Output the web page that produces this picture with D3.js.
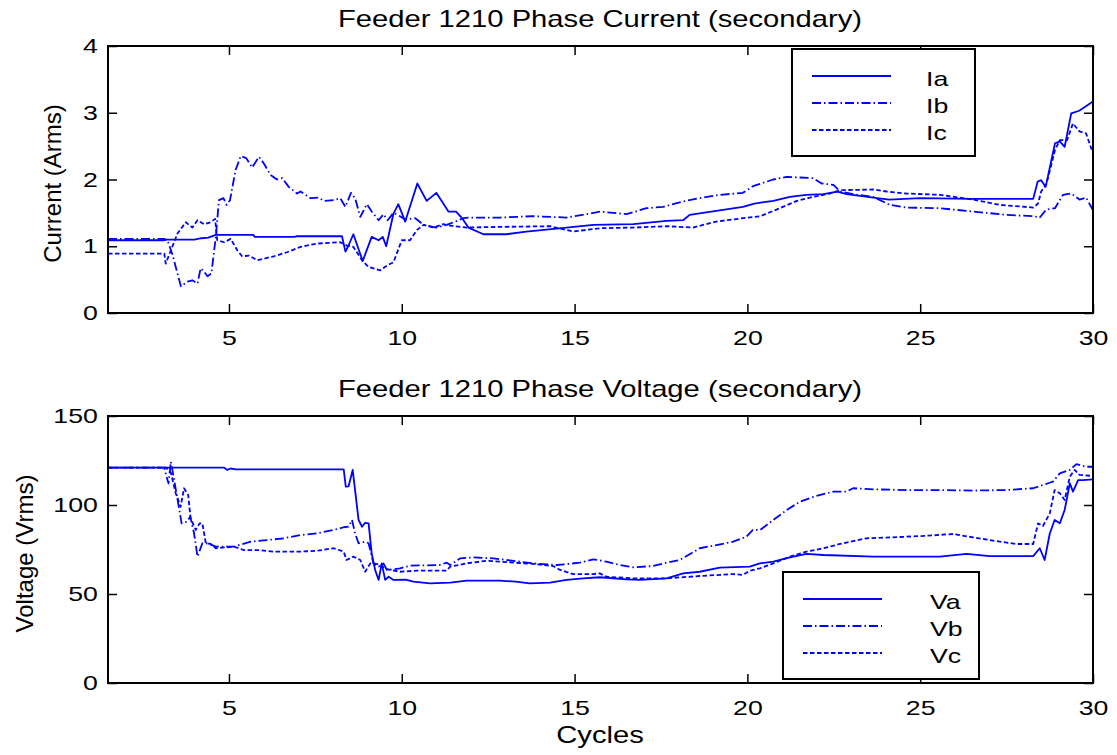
<!DOCTYPE html>
<html>
<head>
    <meta charset="utf-8">
    <style>
        body { margin: 0; background: #fff; }
        svg text { font-family: Arial, "Liberation Sans", Helvetica, sans-serif; fill: #000; }
        .frame { fill: none; stroke: #000; stroke-width: 2px; }
        .tick line { stroke: #000; stroke-width: 1.5px; }
        .domain { display: none; }
        path.trace { fill: none; stroke: #0000ff; stroke-width: 1.8px; stroke-linejoin: round; }
        .legend rect { fill: #fff; stroke: #000; stroke-width: 2px; }
    </style>
</head>
<body>
<div id="chart"></div>
<script src="https://cdn.jsdelivr.net/npm/d3@7"></script>
<script>

    // cycles ticks shared by both panels
    var cycleTicks = [5, 10, 15, 20, 25, 30];
    var currentTicks = [0, 1, 2, 3, 4];
    var voltageTicks = [0, 50, 100, 150];

    // phase currents, [cycle, Arms]
    var ia = [[1.5,1.09],[3.1,1.09],[3.2,1.1],[4.0,1.1],[4.2,1.12],[4.4,1.13],[4.62,1.17],[5.7,1.17],[5.75,1.14],[6.9,1.14],[6.95,1.15],
        [8.27,1.15],[8.37,0.92],[8.45,1.0],[8.6,1.18],[8.72,1.0],[8.87,0.78],[9.13,1.14],[9.33,1.09],[9.45,1.14],[9.55,1.0],[9.76,1.49],
        [9.9,1.63],[10.1,1.37],[10.45,1.94],[10.72,1.68],[11.0,1.8],[11.35,1.52],[11.57,1.52],[11.73,1.43],[11.93,1.28],[12.36,1.18],
        [13.03,1.18],[13.6,1.22],[14.77,1.28],[15.54,1.32],[16.7,1.33],[17.66,1.38],[18.14,1.39],[18.33,1.47],[19.1,1.53],[19.87,1.59],
        [20.2,1.64],[20.75,1.68],[21.23,1.74],[21.7,1.77],[22.2,1.78],[22.6,1.82],[22.87,1.78],[23.64,1.73],[24.1,1.7],[25,1.72],
        [26.5,1.71],[28.27,1.71],[28.4,1.97],[28.5,1.99],[28.63,1.89],[28.9,2.54],[29.04,2.57],[29.18,2.49],[29.37,2.99],[29.6,3.03],
        [29.86,3.12],[30,3.17]];
    var ib = [[1.5,1.11],[3.12,1.11],[3.22,1.09],[3.37,0.87],[3.46,0.69],[3.61,0.4],[3.8,0.47],[3.94,0.49],[4.09,0.44],[4.18,0.67],
        [4.28,0.62],[4.38,0.55],[4.49,0.59],[4.62,1.14],[4.71,1.69],[4.84,1.72],[4.93,1.62],[5.03,1.69],[5.19,2.14],[5.34,2.35],[5.5,2.32],
        [5.67,2.18],[5.87,2.34],[6.01,2.24],[6.2,2.07],[6.39,2.0],[6.54,2.02],[6.73,1.89],[6.97,1.79],[7.07,1.82],[7.36,1.72],[7.6,1.73],
        [7.74,1.68],[8.03,1.69],[8.22,1.72],[8.37,1.59],[8.53,1.8],[8.65,1.72],[8.8,1.44],[8.99,1.63],[9.13,1.52],[9.33,1.39],[9.47,1.48],
        [9.59,1.39],[9.76,1.5],[9.95,1.45],[10.1,1.4],[10.39,1.42],[10.63,1.32],[11.0,1.28],[11.3,1.32],[11.55,1.37],[11.78,1.42],
        [11.97,1.43],[12.84,1.43],[13.8,1.45],[14.77,1.43],[15.35,1.48],[15.73,1.52],[16.5,1.48],[17.08,1.57],[17.56,1.59],[18.14,1.67],
        [18.6,1.72],[19.2,1.77],[19.87,1.8],[20.16,1.9],[20.75,2.0],[21.14,2.04],[21.52,2.03],[21.9,2.02],[22.15,1.94],[22.49,1.92],
        [22.68,1.82],[23.06,1.78],[23.64,1.74],[24.12,1.62],[24.6,1.58],[25.57,1.57],[26.53,1.52],[27.5,1.47],[28.27,1.45],[28.46,1.43],
        [28.65,1.55],[28.9,1.57],[29.13,1.77],[29.37,1.79],[29.61,1.7],[29.8,1.73],[30,1.54]];
    var ic = [[1.5,0.89],[3.13,0.89],[3.17,0.74],[3.32,0.94],[3.51,1.19],[3.75,1.36],[3.94,1.28],[4.09,1.39],[4.28,1.33],[4.47,1.36],
        [4.6,1.41],[4.66,1.09],[4.86,1.06],[5.05,1.11],[5.24,0.94],[5.38,0.85],[5.58,0.86],[5.82,0.79],[6.3,0.85],[6.68,0.91],[7.07,0.99],
        [7.55,1.04],[8.22,1.06],[8.41,1.01],[8.6,0.99],[8.85,0.79],[9.04,0.69],[9.38,0.64],[9.57,0.71],[9.76,0.76],[10.0,1.09],[10.24,1.09],
        [10.43,1.24],[10.63,1.32],[10.92,1.28],[11.2,1.33],[11.5,1.3],[11.88,1.28],[12.84,1.29],[14.29,1.3],[14.96,1.22],[15.73,1.27],
        [16.7,1.28],[17.66,1.3],[18.43,1.28],[19.1,1.37],[19.87,1.42],[20.37,1.45],[20.94,1.57],[21.43,1.68],[21.9,1.74],[22.39,1.79],
        [22.68,1.84],[23.64,1.85],[24.03,1.82],[24.6,1.79],[25.57,1.77],[26.53,1.7],[27.3,1.62],[28.27,1.58],[28.41,1.64],[28.5,1.82],
        [28.65,1.93],[28.9,2.44],[29.04,2.59],[29.25,2.59],[29.42,2.84],[29.61,2.72],[29.8,2.69],[30,2.39]];

    // phase voltages, [cycle, Vrms]
    var va = [[1.5,121],[4.86,121],[4.95,119.7],[5.05,120.5],[5.2,120],[8.32,120],[8.38,110.3],[8.46,110.5],[8.58,119.7],[8.75,91.6],
        [8.85,87.8],[8.94,90],[9.04,89.7],[9.13,72.8],[9.23,63.5],[9.33,57.9],[9.42,67.2],[9.52,57.9],[9.62,59.7],[9.76,57.9],[10.14,58],
        [10.34,56.9],[10.82,56],[11.4,56.4],[11.88,57.5],[12.84,57.5],[13.3,56.9],[13.7,56],[14.29,56.4],[14.77,57.9],[15.25,58.8],
        [15.73,59.4],[16.5,58.2],[16.89,57.9],[17.66,58.8],[18.14,61.6],[18.62,62.5],[19.2,64.8],[20.07,65.4],[20.36,67.2],[20.75,68.2],
        [21.23,70.6],[21.71,72.5],[22.2,71.9],[23.64,71],[25.57,71],[26.34,72.5],[27.01,71.3],[28.27,71.3],[28.46,75.7],[28.6,69.1],
        [28.75,84],[28.89,91.6],[29.04,89.7],[29.18,97.2],[29.33,112.2],[29.42,107.5],[29.57,114],[29.71,114],[30,114.4]];
    var vb = [[1.5,121],[3.13,121],[3.18,116.9],[3.25,112.2],[3.32,124.3],[3.38,117.8],[3.49,105.6],[3.63,89.7],[3.78,90.6],[3.88,93.4],
        [3.99,84.1],[4.09,71],[4.23,78.5],[4.38,78.5],[4.62,76.6],[5.14,76.6],[5.63,79.4],[6.1,80.3],[6.59,81.3],[7.07,83.1],[7.55,84.1],
        [8.03,86],[8.32,87.5],[8.46,87.8],[8.56,91.6],[8.65,84],[8.75,78.5],[8.94,79.4],[9.04,78.5],[9.18,67.2],[9.33,65.4],[9.47,67.2],
        [9.57,63.5],[9.95,64.4],[10.24,65.9],[11.1,66.3],[11.3,67.6],[11.4,66.3],[11.69,70],[12.07,70.6],[12.65,70],[13.03,69.1],[13.8,67.2],
        [14.48,66.3],[14.77,66.8],[15.15,67.6],[15.54,69.5],[15.92,68.2],[16.31,66.3],[16.7,65],[17.27,65.7],[17.66,67.6],[18.04,69.1],
        [18.24,71.3],[18.62,75.7],[19.1,77.5],[19.59,79.4],[19.97,82.2],[20.16,86],[20.37,86],[20.75,91.6],[21.14,97.2],[21.52,101.9],
        [22,105.1],[22.49,107.5],[22.87,107.5],[23.06,109.4],[23.64,108.8],[24.6,108.4],[25.57,108.4],[26.53,108.1],[27.5,108.4],
        [28.27,109.4],[28.55,111.2],[28.84,113.1],[29.04,117.8],[29.33,119.7],[29.52,123],[29.8,121.5],[30,121.5]];
    var vc = [[1.5,121],[3.18,121],[3.32,118],[3.46,106.6],[3.6,99],[3.7,109.4],[3.82,105.6],[3.89,92.5],[4.04,86],[4.15,89.7],
        [4.23,89.7],[4.33,78.5],[4.47,78.1],[4.62,75.7],[5.14,76.6],[5.43,74.7],[5.82,74.7],[6.3,73.8],[7.07,73.8],[7.55,74.3],[8.03,75.7],
        [8.32,73.8],[8.4,69.1],[8.6,71],[8.8,69.1],[8.94,62.5],[9.09,67.2],[9.33,66.8],[9.57,63.9],[9.95,62.5],[10.43,63.1],[11.3,63.1],
        [11.4,65.4],[11.88,67.2],[12.46,68.7],[12.84,68.2],[13.8,66.9],[14.38,65.7],[14.58,63.5],[14.96,61.2],[15.54,61.2],[15.73,61.6],
        [15.92,59.7],[16.7,58.8],[17.66,58.8],[18.62,60.1],[19.59,61.2],[19.87,60.7],[20.07,63.1],[20.36,64.4],[20.75,67.2],[21.23,71],
        [21.71,73.8],[22.2,75.7],[22.68,78.1],[23.45,81.3],[24.12,81.8],[25.09,82.6],[25.95,83.7],[26.53,81.8],[27.11,80],[27.78,78.1],
        [28.27,78.1],[28.41,89.7],[28.55,88.2],[28.75,95.3],[28.89,108.4],[29.04,106.6],[29.18,102.8],[29.33,115.9],[29.47,119.7],
        [29.61,116.9],[30,116.3]];

    var currentNames = ["Ia", "Ib", "Ic"];
    var voltageNames = ["Va", "Vb", "Vc"];

    var width = 1117, height = 755;
    var left = 108, right = 1093;
    var stretchX = 1.27;   // the original figure is stretched sideways
    var dashes = [null, "9,3,1.5,3", "4.5,2.5"];

    var svg = d3.select("#chart").append("svg")
        .attr("width", width)
        .attr("height", height);

    var x = d3.scaleLinear().domain([1.5, 30]).range([left, right]);

    function wideText(g, tx, ty, str, size, anchor) {
        return g.append("text")
            .attr("transform", "translate(" + tx + "," + ty + ") scale(" + stretchX + ",1)")
            .attr("text-anchor", anchor || "middle")
            .style("font-size", size + "px")
            .text(str);
    }

    function drawPanel(p) {
        var y = d3.scaleLinear().domain(p.domain).range([p.bottom, p.top]);
        var g = svg.append("g");

        var clipId = "clip" + p.top;
        g.append("clipPath").attr("id", clipId)
            .append("rect")
            .attr("x", left).attr("y", p.top)
            .attr("width", right - left).attr("height", p.bottom - p.top);

        // ticks on all four sides, pointing in
        g.append("g").attr("transform", "translate(0," + p.bottom + ")")
            .call(d3.axisBottom(x).tickValues(cycleTicks).tickFormat(d3.format("d"))
                .tickSizeInner(-9).tickSizeOuter(0).tickPadding(17))
            .selectAll("text").style("font-size", "21px").attr("transform", "scale(" + stretchX + ",1)");
        g.append("g").attr("transform", "translate(0," + p.top + ")")
            .call(d3.axisTop(x).tickValues(cycleTicks).tickSizeInner(-9).tickSizeOuter(0).tickFormat(""));
        g.append("g").attr("transform", "translate(" + left + ",0)")
            .call(d3.axisLeft(y).tickValues(p.ticks).tickFormat(d3.format("d"))
                .tickSizeInner(-9).tickSizeOuter(0))
            .selectAll("text").style("font-size", "21px")
            .attr("x", -8).attr("transform", "scale(" + stretchX + ",1)");
        g.append("g").attr("transform", "translate(" + right + ",0)")
            .call(d3.axisRight(y).tickValues(p.ticks).tickSizeInner(-9).tickSizeOuter(0).tickFormat(""));

        var line = d3.line()
            .x(function (d) { return x(d[0]); })
            .y(function (d) { return y(d[1]); });

        g.append("g").attr("clip-path", "url(#" + clipId + ")")
            .selectAll("path.trace")
            .data(p.series)
            .enter().append("path")
            .attr("class", "trace")
            .attr("stroke-dasharray", function (d, i) { return dashes[i]; })
            .attr("d", line);

        g.append("rect").attr("class", "frame")
            .attr("x", left).attr("y", p.top)
            .attr("width", right - left).attr("height", p.bottom - p.top);

        wideText(g, 600, p.top - 19, p.title, 23);

        g.append("text")
            .attr("transform", "translate(" + p.labelX + "," + ((p.top + p.bottom) / 2 + 4) + ") rotate(-90)")
            .attr("text-anchor", "middle")
            .style("font-size", "24px")
            .text(p.label);

        // legend
        var lg = g.append("g").attr("class", "legend")
            .attr("transform", "translate(" + p.legend[0] + "," + p.legend[1] + ")");
        lg.append("rect").attr("width", p.legend[2]).attr("height", 107);
        p.names.forEach(function (name, i) {
            var ly = 27 + i * 27;
            lg.append("path").attr("class", "trace")
                .attr("stroke-dasharray", dashes[i])
                .attr("d", "M20," + ly + "H99");
            wideText(lg, p.legend[2] - 49, ly + 9.5, name, 21, "start");
        });
    }

    drawPanel({
        top: 46, bottom: 313, domain: [0, 4], ticks: currentTicks,
        series: [ia, ib, ic], names: currentNames,
        title: "Feeder 1210 Phase Current (secondary)",
        label: "Current (Arms)", labelX: 61,
        legend: [792, 49, 183]
    });

    drawPanel({
        top: 416, bottom: 683, domain: [0, 150], ticks: voltageTicks,
        series: [va, vb, vc], names: voltageNames,
        title: "Feeder 1210 Phase Voltage (secondary)",
        label: "Voltage (Vrms)", labelX: 33,
        legend: [783, 572, 196]
    });

    wideText(svg, 600, 743, "Cycles", 23);

</script>
</body>
</html>
